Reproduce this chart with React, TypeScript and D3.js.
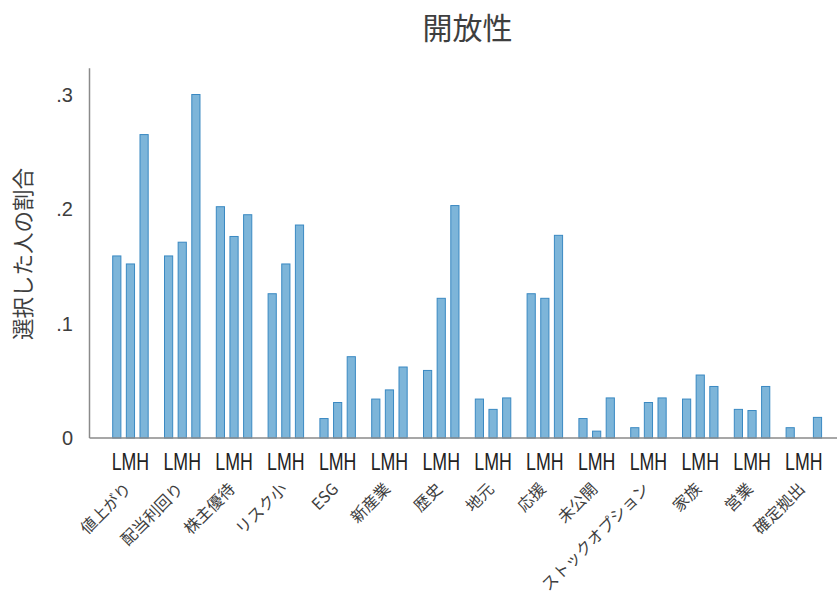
import React from "react";
import * as d3 from "d3";

// Share of respondents choosing each reason, by openness level (L / M / H)
const categories = [
  "値上がり", "配当利回り", "株主優待", "リスク小", "ESG", "新産業", "歴史",
  "地元", "応援", "未公開", "ストックオプション", "家族", "営業", "確定拠出",
];
const levels = ["L", "M", "H"];
const lowValues = [0.159, 0.159, 0.202, 0.126, 0.017, 0.034, 0.059, 0.034, 0.126, 0.017, 0.009, 0.034, 0.025, 0.009];
const midValues = [0.152, 0.171, 0.176, 0.152, 0.031, 0.042, 0.122, 0.025, 0.122, 0.006, 0.031, 0.055, 0.024, 0];
const highValues = [0.265, 0.300, 0.195, 0.186, 0.071, 0.062, 0.203, 0.035, 0.177, 0.035, 0.035, 0.045, 0.045, 0.018];
const yTicks = [0, 0.1, 0.2, 0.3];
const yTickLabels = ["0", ".1", ".2", ".3"];

const title = "開放性";
const yTitle = "選択した人の割合";

const W = 838;
const H = 597;
const JP = "'Noto Sans CJK JP', 'Noto Sans', sans-serif";
const LAT = "'Liberation Sans', Arial, sans-serif";
const TEXT = "#3e3e3e";

export default function App() {
  const x0 = 112.7;
  const step = 51.8;
  const pad = 0.315;
  const x = d3
    .scaleBand<string>()
    .domain(categories)
    .range([x0, x0 + step * (categories.length - pad)])
    .paddingInner(pad)
    .paddingOuter(0);
  const xi = d3
    .scaleBand<string>()
    .domain(levels)
    .range([0, x.bandwidth()])
    .paddingInner(0.4)
    .paddingOuter(0);
  const y = d3.scaleLinear().domain([0, 0.3]).range([438, 94.5]);

  const series = [lowValues, midValues, highValues];
  const axisLeft = 89.5;
  const axisTop = y(0.323);

  return (
    <svg
      width={W}
      height={H}
      style={{ position: "absolute", left: 0, top: 0, background: "#fff" }}
    >
      <rect width={W} height={H} fill="#fff" />
      <text
        x={467.5}
        y={39}
        textAnchor="middle"
        fontFamily={JP}
        fontSize={30}
        fill={TEXT}
      >
        {title}
      </text>

      {/* bars */}
      <g>
        {categories.map((c, i) =>
          levels.map((lv, j) => {
            const v = series[j][i];
            if (!v) return null;
            const bx = (x(c) as number) + (xi(lv) as number);
            return (
              <rect
                key={c + lv}
                x={bx}
                y={y(v)}
                width={xi.bandwidth()}
                height={y(0) - y(v)}
                fill="#7db5d9"
                stroke="#3a89c2"
                strokeWidth={1}
              />
            );
          })
        )}
      </g>

      {/* axes */}
      <line x1={axisLeft} x2={axisLeft} y1={axisTop} y2={y(0)} stroke="#8a8a8a" strokeWidth={1.5} />
      <line x1={axisLeft} x2={837} y1={y(0)} y2={y(0)} stroke="#8a8a8a" strokeWidth={1.5} />

      {yTicks.map((t, k) => (
        <text
          key={t}
          x={73}
          y={y(t) + 7}
          textAnchor="end"
          fontFamily={LAT}
          fontSize={20}
          fill={TEXT}
        >
          {yTickLabels[k]}
        </text>
      ))}

      <text
        transform={`translate(31, 254) rotate(-90)`}
        textAnchor="middle"
        fontFamily={JP}
        fontSize={21.5}
        fill={TEXT}
      >
        {yTitle}
      </text>

      {/* level labels and category labels */}
      {categories.map((c) => {
        const cx = (x(c) as number) + x.bandwidth() / 2;
        return (
          <g key={c}>
            <text
              x={cx}
              y={469.5}
              textAnchor="middle"
              fontFamily={LAT}
              fontSize={24}
              textLength={37.5}
              lengthAdjust="spacingAndGlyphs"
              fill="#222"
            >
              {levels.join("")}
            </text>
            <text
              transform={`translate(${cx + 2}, 490) rotate(-45)`}
              textAnchor="end"
              fontFamily={JP}
              fontSize={16}
              fill={TEXT}
            >
              {c}
            </text>
          </g>
        );
      })}
    </svg>
  );
}
